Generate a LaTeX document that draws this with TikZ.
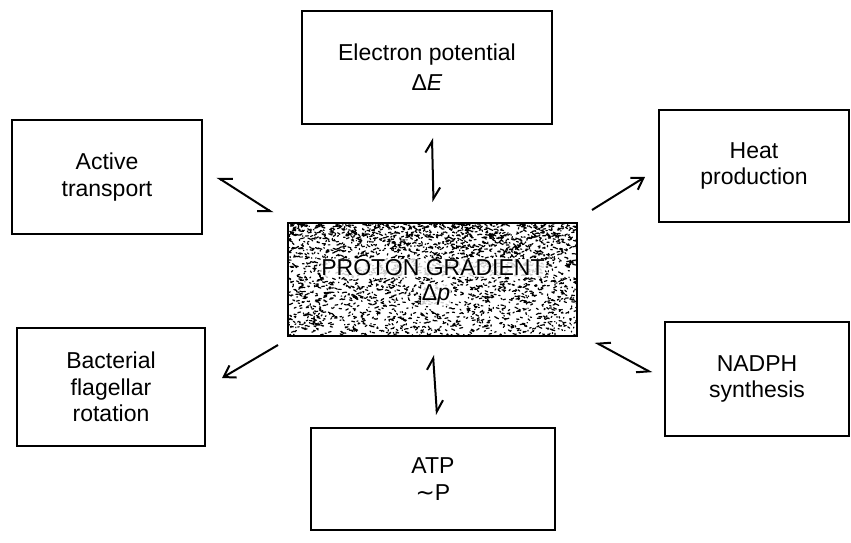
\documentclass[tikz,border=0pt]{standalone}
\usepackage{fontspec}
\setmainfont{Liberation Sans}
\newfontfamily\symfont{DejaVu Sans}
\usetikzlibrary{arrows.meta}
\begin{document}
\begin{tikzpicture}[x=1pt,y=-1pt,
  box/.style={draw, line width=1.7pt, rectangle, inner sep=0pt, align=center,
    font=\fontsize{23}{26.5}\selectfont},
  lbl/.style={font=\fontsize{23}{26.5}\selectfont, inner sep=0.8pt,
    fill=white, fill opacity=0.8, text opacity=1},
  harp/.style={line width=2pt,
    {Straight Barb[harpoon,angle=65:13pt]}-{Straight Barb[harpoon,angle=65:13pt]}},
  harps/.style={line width=2pt,
    {Straight Barb[harpoon,swap,angle=65:13pt]}-{Straight Barb[harpoon,swap,angle=65:13pt]}},
  one/.style={line width=2pt, -{Straight Barb[angle=65:13pt]}}]
\useasboundingbox (0,0) rectangle (851,543);
% boxes
\node[box, minimum width=250pt, minimum height=113pt] (elec) at (427,67.5)
  {Electron potential\\[3.5pt]Δ\textit{E}};
\node[box, minimum width=190pt, minimum height=114pt] (active) at (107,177)
  {Active\\transport};
\node[box, minimum width=190pt, minimum height=112pt] (heat) at (754,166)
  {Heat\\production};
\node[box, minimum width=188pt, minimum height=118pt] (bact) at (111,387)
  {Bacterial\\flagellar\\rotation};
\node[box, minimum width=184pt, minimum height=114pt] (nadph) at (757,379)
  {NADPH\\synthesis};
\node[box, minimum width=244pt, minimum height=102pt] (atp) at (433,479)
  {ATP\\[1pt]{\symfont ∼}P};
% central stippled box
\node[draw, line width=1.7pt, minimum width=289pt, minimum height=113pt, inner sep=0pt]
  (proton) at (432.5,279.5) {};
\begin{scope}
  \clip (proton.north west) rectangle (proton.south east);
  \pgfmathsetseed{11}
  \draw[line width=1.2pt, line cap=round]
    foreach \i in {1,...,2900} {({289+rnd*288},{224+pow(rnd,1.3)*111}) -- ++({rnd*6-3},{rnd*3-1.5})};
\end{scope}
\node[lbl] (ptext1) at (433,268) {PROTON GRADIENT};
\node[lbl] (ptext2) at (436,295) {Δ\textit{p}};
% connector end points
\coordinate (e1) at (432,138); \coordinate (e2) at (433.5,202);
\coordinate (a1) at (217,177); \coordinate (a2) at (273,213);
\coordinate (h1) at (592,210); \coordinate (h2) at (645,177);
\coordinate (b1) at (278,345); \coordinate (b2) at (222,378);
\coordinate (n1) at (595,342); \coordinate (n2) at (652,373);
\coordinate (t1) at (433,355); \coordinate (t2) at (437,415);
% connectors
\draw[harp] (e1) -- (e2);
\draw[harps] (a1) -- (a2);
\draw[one] (h1) -- (h2);
\draw[one] (b1) -- (b2);
\draw[harps] (n1) -- (n2);
\draw[harp] (t1) -- (t2);
\end{tikzpicture}
\end{document}
